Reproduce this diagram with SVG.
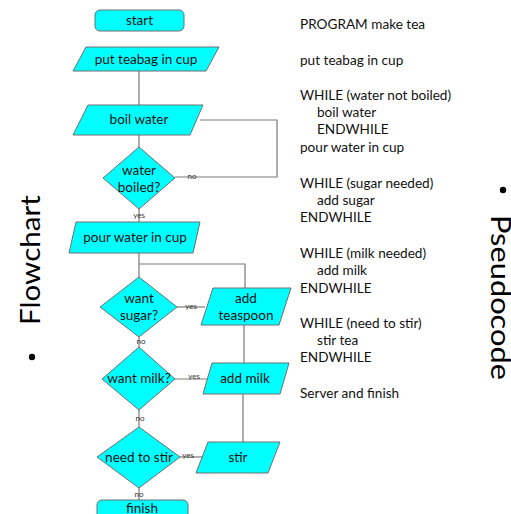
<svg xmlns="http://www.w3.org/2000/svg" width="511" height="514" viewBox="0 0 511 514">
<style>
.shape{fill:#00FFFF;stroke:#6E6E6E;stroke-width:1}
.conn{fill:none;stroke:#7A7A7A;stroke-width:1.2}
.t{font-family:Lato,"Open Sans","DejaVu Sans",sans-serif;font-size:13.5px;fill:#111;text-anchor:middle}
.lbl{font-family:Lato,"DejaVu Sans",sans-serif;font-size:8px;fill:#333;text-anchor:middle}
.code{font-family:Lato,"Open Sans","DejaVu Sans",sans-serif;font-size:13.6px;fill:#111}
.big{font-family:Lato,"Open Sans","DejaVu Sans",sans-serif;font-size:27px;fill:#000}
</style>
<rect width="511" height="514" fill="#fff"/>
<g id="connectors">
<path class="conn" d="M139 71 V105"/>
<path class="conn" d="M200 120 H277 V177 H175"/>
<path class="conn" d="M139 135 V147"/>
<path class="conn" d="M139 209 V222"/>
<path class="conn" d="M139 253 V277"/>
<path class="conn" d="M139 264 H245 V288"/>
<path class="conn" d="M177 307 H205"/>
<path class="conn" d="M244 325 V363"/>
<path class="conn" d="M139 337 V347"/>
<path class="conn" d="M175 379 H208"/>
<path class="conn" d="M243 394 V442"/>
<path class="conn" d="M139 410 V427"/>
<path class="conn" d="M180 457 H202"/>
<path class="conn" d="M139 488 V500"/>
<text class="lbl" x="192" y="179">no</text>
<text class="lbl" x="139" y="218">yes</text>
<text class="lbl" x="191" y="309">yes</text>
<text class="lbl" x="141" y="344">no</text>
<text class="lbl" x="194" y="379">yes</text>
<text class="lbl" x="140" y="421">no</text>
<text class="lbl" x="188" y="458">yes</text>
<text class="lbl" x="139" y="497">no</text>
</g>
<g id="start"><rect class="shape" x="95" y="10" width="89" height="21" rx="5"/><text class="t" x="139.5" y="25">start</text></g>
<g id="put_teabag"><polygon class="shape" points="86,47 219,47 206,71 73,71"/><text class="t" x="146" y="64">put teabag in cup</text></g>
<g id="boil_water"><polygon class="shape" points="88,105 203,105 190,135 73,135"/><text class="t" x="139" y="124">boil water</text></g>
<g id="water_boiled"><polygon class="shape" points="139,147 175,178 139,209 103,178"/><text class="t" x="139" y="175">water</text><text class="t" x="139" y="192">boiled?</text></g>
<g id="pour_water"><polygon class="shape" points="76,222 200,222 193,253 69,253"/><text class="t" x="135" y="242">pour water in cup</text></g>
<g id="want_sugar"><polygon class="shape" points="139,277 177,307 139,337 100,307"/><text class="t" x="139" y="303">want</text><text class="t" x="139" y="320">sugar?</text></g>
<g id="add_teaspoon"><polygon class="shape" points="213,288 291,288 279,325 201,325"/><text class="t" x="246" y="303">add</text><text class="t" x="246" y="320">teaspoon</text></g>
<g id="want_milk"><polygon class="shape" points="139,347 175,379 139,410 102,379"/><text class="t" x="139" y="383">want milk?</text></g>
<g id="add_milk"><polygon class="shape" points="212,363 289,363 280,394 203,394"/><text class="t" x="245" y="383">add milk</text></g>
<g id="need_stir"><polygon class="shape" points="139,427 180,457 139,488 97,457"/><text class="t" x="139" y="462">need to stir</text></g>
<g id="stir"><polygon class="shape" points="208,442 280,442 268,473 196,473"/><text class="t" x="238" y="462">stir</text></g>
<g id="finish"><rect class="shape" x="97" y="500" width="91" height="24" rx="5"/><text class="t" x="142" y="513">finish</text></g>
<g id="pseudocode">
<text class="code" x="300" y="29">PROGRAM make tea</text>
<text class="code" x="300" y="65">put teabag in cup</text>
<text class="code" x="300" y="100">WHILE (water not boiled)</text>
<text class="code" x="317" y="117">boil water</text>
<text class="code" x="317" y="134">ENDWHILE</text>
<text class="code" x="300" y="152">pour water in cup</text>
<text class="code" x="300" y="188">WHILE (sugar needed)</text>
<text class="code" x="317" y="205">add sugar</text>
<text class="code" x="300" y="222">ENDWHILE</text>
<text class="code" x="300" y="258">WHILE (milk needed)</text>
<text class="code" x="317" y="275">add milk</text>
<text class="code" x="300" y="293">ENDWHILE</text>
<text class="code" x="300" y="328">WHILE (need to stir)</text>
<text class="code" x="317" y="345">stir tea</text>
<text class="code" x="300" y="362">ENDWHILE</text>
<text class="code" x="300" y="398">Server and finish</text>
</g>
<g id="side_labels">
<circle cx="32" cy="357" r="3.2" fill="#000"/>
<text class="big" transform="translate(40 325) rotate(-90)" textLength="130" lengthAdjust="spacingAndGlyphs">Flowchart</text>
<circle cx="503" cy="190" r="3.2" fill="#000"/>
<text class="big" transform="translate(491 215) rotate(90)" textLength="165" lengthAdjust="spacingAndGlyphs">Pseudocode</text>
</g>
</svg>
